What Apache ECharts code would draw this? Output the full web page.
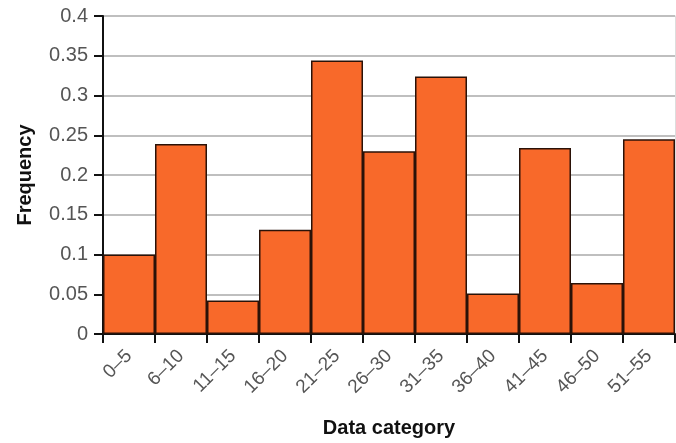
<!DOCTYPE html>
<html><head><meta charset="utf-8">
<script src="https://cdn.jsdelivr.net/npm/echarts@6/dist/echarts.min.js"></script>
<style>html,body{margin:0;padding:0;background:#fff}#c{width:676px;height:443px}</style>
</head><body><div id="c"></div>
<script>
const categories = ["0–5","6–10","11–15","16–20","21–25","26–30","31–35","36–40","41–45","46–50","51–55"];
const frequency = [0.1,0.239,0.042,0.131,0.344,0.23,0.324,0.051,0.234,0.064,0.245];
const yTicks = [0,0.05,0.1,0.15,0.2,0.25,0.3,0.35,0.4];

const chart = echarts.init(document.getElementById('c'), null, {renderer:'canvas'});
chart.setOption({
  animation:false,
  grid:{left:103,right:1,top:16,bottom:107},
  xAxis:{
    type:'category', data:categories, boundaryGap:true,
    name:'Data category', nameLocation:'middle', nameGap:84,
    nameTextStyle:{fontFamily:'Liberation Sans',fontWeight:'bold',fontSize:20,color:'#111'},
    axisLine:{lineStyle:{color:'#111',width:2}},
    axisTick:{show:true,length:9,lineStyle:{color:'#111',width:2},alignWithLabel:false},
    axisLabel:{rotate:45,fontFamily:'Liberation Sans',fontSize:19,color:'#555',margin:19,interval:0}
  },
  yAxis:[{
    type:'value', min:0, max:0.4, interval:0.05,
    name:'Frequency', nameLocation:'middle', nameGap:68, nameRotate:90,
    nameTextStyle:{fontFamily:'Liberation Sans',fontWeight:'bold',fontSize:20,color:'#111'},
    axisLine:{show:true,lineStyle:{color:'#111',width:2}},
    axisTick:{show:true,length:9,lineStyle:{color:'#111',width:2}},
    splitLine:{lineStyle:{color:'#aaa',width:1.5}},
    axisLabel:{fontFamily:'Liberation Sans',fontSize:20,color:'#555',margin:15,
      formatter:v=>{const t=yTicks.find(x=>Math.abs(x-v)<1e-9);return t===undefined?'':String(t);}}
  },{
    type:'value', min:0, max:0.4, interval:0.05, position:'right',
    axisLine:{show:true,lineStyle:{color:'#ddd',width:1}},
    axisTick:{show:false}, axisLabel:{show:false}, splitLine:{show:false}
  }],
  series:[{
    type:'bar', data:frequency, barCategoryGap:'0%', yAxisIndex:0,
    itemStyle:{color:'#f8692a',borderColor:'#2a1208',borderWidth:1.5}
  }]
});
</script></body></html>
